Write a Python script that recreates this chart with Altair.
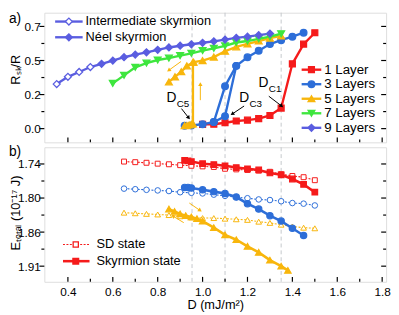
import math
import altair as alt
import pandas as pd

FONT = "Liberation Sans"
RED = "#f51b1b"
BLUE = "#2d6ed8"
YEL = "#f8b60c"
GRN = "#3ee63e"
PUR = "#5a5de0"

# ---------------- panel a) : R_sk / R ----------------
D_1L = [1.0, 1.05, 1.1, 1.15, 1.2, 1.25, 1.3, 1.35, 1.4, 1.45, 1.5]
R_1L = [0.029, 0.030, 0.040, 0.052, 0.058, 0.069, 0.090, 0.141, 0.444, 0.579, 0.657]

D_3L_UP = [0.92, 0.95, 1.0, 1.05, 1.1, 1.15, 1.2, 1.25, 1.3, 1.35, 1.4, 1.45]
R_3L_UP = [0.020, 0.022, 0.030, 0.045, 0.085, 0.430, 0.489, 0.534, 0.579, 0.606, 0.630, 0.657]
D_3L_DOWN = [1.05, 1.1, 1.15]
R_3L_DOWN = [0.045, 0.290, 0.430]

D_5L_SK = [1.35, 1.3, 1.25, 1.2, 1.15, 1.1, 1.05, 1.0, 0.96, 0.93, 0.905, 0.877, 0.85]
R_5L_SK = [0.635, 0.62, 0.60, 0.58, 0.56, 0.53, 0.49, 0.466, 0.455, 0.43, 0.39, 0.355, 0.32]
D_5L_LOW = [0.92, 0.93, 0.94, 0.95, 0.957, 0.957]
R_5L_LOW = [0.020, 0.022, 0.025, 0.030, 0.032, 0.455]

D_7L = [0.6, 0.65, 0.7, 0.75, 0.8, 0.85, 0.9, 0.95, 1.0, 1.05, 1.1, 1.15, 1.2, 1.25, 1.3, 1.35]
R_7L = [0.31, 0.365, 0.42, 0.449, 0.47, 0.483, 0.5, 0.516, 0.535, 0.55, 0.567, 0.59, 0.60, 0.615, 0.63, 0.65]

D_9L = [0.35, 0.4, 0.45, 0.5, 0.55, 0.6, 0.65, 0.7, 0.75, 0.8, 0.85, 0.9, 0.95, 1.0, 1.05, 1.1, 1.15, 1.2, 1.25, 1.3]
R_9L = [0.305, 0.355, 0.388, 0.422, 0.444, 0.466, 0.489, 0.507, 0.523, 0.54, 0.556, 0.568, 0.578, 0.588,
        0.598, 0.61, 0.622, 0.63, 0.64, 0.651]
D_INTERMEDIATE_MAX = 0.5  # 9-layer points up to here are intermediate (open) skyrmions

# ---------------- panel b) : E_total ----------------
D_SD = [0.65, 0.7, 0.75, 0.8, 0.85, 0.9, 0.95, 1.0, 1.05, 1.1, 1.15, 1.2, 1.25, 1.3, 1.35, 1.4, 1.45, 1.5]
E_SD_1L = [1.736, 1.737, 1.738, 1.7395, 1.7405, 1.742, 1.743, 1.744, 1.745, 1.748, 1.749, 1.750, 1.751,
           1.753, 1.757, 1.760, 1.762, 1.767]
E_SD_3L = [1.781, 1.782, 1.783, 1.784, 1.785, 1.787, 1.788, 1.789, 1.791, 1.793, 1.795, 1.797, 1.799,
           1.800, 1.802, 1.805, 1.806, 1.809]
E_SD_5L = [1.821, 1.822, 1.823, 1.824, 1.825, 1.827, 1.829, 1.830, 1.830, 1.831, 1.832, 1.833, 1.836,
           1.838, 1.841, 1.844, 1.846, 1.847]

D_SK_1L = [0.92, 0.935, 0.95, 1.0, 1.05, 1.1, 1.15, 1.2, 1.25, 1.3, 1.35, 1.4, 1.45, 1.5]
E_SK_1L = [1.734, 1.735, 1.736, 1.7395, 1.741, 1.743, 1.746, 1.748, 1.750, 1.755, 1.758, 1.765, 1.774, 1.787]
D_SK_3L = [0.92, 0.935, 0.95, 1.0, 1.05, 1.1, 1.15, 1.2, 1.25, 1.3, 1.35, 1.4, 1.45]
E_SK_3L = [1.779, 1.779, 1.780, 1.783, 1.786, 1.789, 1.795, 1.806, 1.815, 1.826, 1.835, 1.847, 1.859]
D_SK_5L = [0.85, 0.875, 0.9, 0.925, 0.95, 0.975, 1.0, 1.05, 1.1, 1.15, 1.2, 1.25, 1.3, 1.35, 1.38]
E_SK_5L = [1.815, 1.819, 1.823, 1.826, 1.828, 1.831, 1.835, 1.846, 1.858, 1.866, 1.877, 1.887, 1.900,
           1.910, 1.917]

# ---------------- guides / annotations ----------------
V_LINES = [0.953, 1.1, 1.35]
X_MAJOR = [0.4, 0.6, 0.8, 1.0, 1.2, 1.4, 1.6, 1.8]
X_MINOR = [0.5, 0.7, 0.9, 1.1, 1.3, 1.5, 1.7]
YA_MAJOR = [0.0, 0.23333, 0.46667, 0.7]
YA_LABELS = ["0.0", "0.2", "0.5", "0.7"]
YA_MINOR = [0.11667, 0.35, 0.58333]
YB_MAJOR = [1.74, 1.79667, 1.85333, 1.91]
YB_LABELS = ["1.74", "1.80", "1.86", "1.91"]
YB_MINOR = [1.76833, 1.825, 1.88167]

# (main letter, subscript, x and y of the letter centre)
ANNOT_A = [("D", "C1", 1.271, 0.31),
           ("D", "C3", 1.185, 0.209),
           ("D", "C5", 0.861, 0.212)]
ARROWS_A = [(1.295, 0.222, 1.352, 0.155, "black"),
            (1.185, 0.155, 1.132, 0.100, "black"),
            (0.906, 0.137, 0.938, 0.074, "black"),
            (0.99, 0.195, 0.99, 0.305, YEL),
            (0.904, 0.460, 0.849, 0.399, YEL)]
ARROWS_B = [(0.941, 1.805, 0.989, 1.8174, YEL),
            (0.916, 1.8376, 0.868, 1.8267, YEL)]

SERIES_NAMES = ["1 Layer", "3 Layers", "5 Layers", "7 Layers", "9 Layers"]
SERIES_COLORS = [RED, BLUE, YEL, GRN, PUR]
SERIES_SHAPES = ["square", "circle", "triangle-up", "triangle-down", "diamond"]
SKYRMION_TYPES = ["Intermediate skyrmion", "Néel skyrmion"]
STATE_NAMES = ["SD state", "Skyrmion state"]

# ---------------- layout ----------------
W = 348
HA = 132
HB = 137
XDOM = [0.295, 1.8175]
YADOM = [-0.094, 0.794]
YBDOM = [1.7122, 1.936]
KX = W / (XDOM[1] - XDOM[0])
KYA = HA / (YADOM[1] - YADOM[0])
KYB = HB / (YBDOM[1] - YBDOM[0])

SIZES = {"square": 36, "circle": 46, "triangle-up": 48, "triangle-down": 48, "diamond": 50}


def label_expr(vals, labels):
    parts = [f"abs(datum.value - {v}) < 0.001 ? '{l}'" for v, l in zip(vals, labels)]
    return " : ".join(parts) + " : ''"


XSCALE = alt.Scale(domain=XDOM, nice=False, zero=False)
XAXIS_B = alt.Axis(values=X_MAJOR, format=".1f", ticks=False, tickSize=0, domain=False, grid=False,
                   labelPadding=5, labelFontSize=12, labelFont=FONT, labelColor="black", labelFlush=False,
                   title="D (mJ/m²)", titleFont=FONT, titleFontSize=13, titleFontWeight="normal",
                   titleColor="black", titlePadding=1)
YSCALE_A = alt.Scale(domain=YADOM, nice=False, zero=False)
YAXIS_A = alt.Axis(values=YA_MAJOR, labelExpr=label_expr(YA_MAJOR, YA_LABELS), ticks=False, tickSize=0,
                   domain=False, grid=False, labelPadding=4, labelFontSize=12, labelFont=FONT,
                   labelColor="black", labelOverlap=False, title=None)
YSCALE_B = alt.Scale(domain=YBDOM, nice=False, zero=False, reverse=True)
YAXIS_B = alt.Axis(values=YB_MAJOR, labelExpr=label_expr(YB_MAJOR, YB_LABELS), ticks=False, tickSize=0,
                   domain=False, grid=False, labelPadding=4, labelFontSize=12, labelFont=FONT,
                   labelColor="black", labelOverlap=False, title=None)


def panel_encoders(panel):
    if panel == "a":
        xa, ys, ya, ky, sgn = None, YSCALE_A, YAXIS_A, KYA, -1
    else:
        xa, ys, ya, ky, sgn = XAXIS_B, YSCALE_B, YAXIS_B, KYB, 1

    def X(f):
        return alt.X(f"{f}:Q", scale=XSCALE, axis=xa)

    def Y(f):
        return alt.Y(f"{f}:Q", scale=ys, axis=ya)
    return X, Y, ky, sgn


def series_rows(D, V, name, path, color, shape, fills):
    return [{"D": d, "v": v, "series": name, "path": path, "ord": i, "color": color,
             "shape": shape, "fill": f, "size": SIZES[shape]} for i, (d, v, f) in enumerate(zip(D, V, fills))]


def common_layers(panel, H):
    X, Y, ky, sgn = panel_encoders(panel)
    layers = []
    vdf = pd.DataFrame({"D": V_LINES})
    layers.append(alt.Chart(vdf).mark_rule(color="#c4c8cc", strokeWidth=1, strokeDash=[4, 3]).encode(x=X("D")))
    maj = YA_MAJOR if panel == "a" else YB_MAJOR
    mnr = YA_MINOR if panel == "a" else YB_MINOR
    k = dict(color="black", strokeWidth=1.2)
    layers.append(alt.Chart(pd.DataFrame({"t": X_MAJOR})).mark_rule(**k).encode(
        x=X("t"), y=alt.value(H), y2=alt.value(H - 5)))
    layers.append(alt.Chart(pd.DataFrame({"t": X_MINOR})).mark_rule(**k).encode(
        x=X("t"), y=alt.value(H), y2=alt.value(H - 3)))
    layers.append(alt.Chart(pd.DataFrame({"t": maj})).mark_rule(**k).encode(
        y=Y("t"), x=alt.value(-5), x2=alt.value(0)))
    layers.append(alt.Chart(pd.DataFrame({"t": mnr})).mark_rule(**k).encode(
        y=Y("t"), x=alt.value(-3), x2=alt.value(0)))
    layers.append(alt.Chart(pd.DataFrame({"t": maj})).mark_rule(**k).encode(
        y=Y("t"), x=alt.value(W), x2=alt.value(W - 5)))
    layers.append(alt.Chart(pd.DataFrame({"t": mnr})).mark_rule(**k).encode(
        y=Y("t"), x=alt.value(W), x2=alt.value(W - 3)))
    return layers


def arrow_layers(panel, arrows):
    X, Y, ky, sgn = panel_encoders(panel)
    rows = []
    for (x0, y0, x1, y1, c) in arrows:
        dx = (x1 - x0) * KX
        dy = sgn * (y1 - y0) * ky
        ang = math.degrees(math.atan2(dx, -dy)) % 360
        rows.append({"x0": x0, "y0": y0, "x1": x1, "y1": y1, "c": c, "ang": ang})
    df = pd.DataFrame(rows)
    rule = alt.Chart(df).mark_rule(strokeWidth=1).encode(
        x=X("x0"), x2=alt.X2("x1"), y=Y("y0"), y2=alt.Y2("y1"), color=alt.Color("c:N", scale=None))
    head = alt.Chart(df).mark_point(shape="triangle-up", filled=True, size=20, opacity=1).encode(
        x=X("x1"), y=Y("y1"), fill=alt.Fill("c:N", scale=None), angle=alt.Angle("ang:Q", scale=None))
    return [rule, head]


def legend_row(label, color, shape, filled, dashed, y, x0, x1, xm, xt, fs, lw, size):
    base = alt.Chart(pd.DataFrame({"label": [label]}))
    rk = dict(color=color, strokeWidth=lw)
    if dashed:
        rk["strokeDash"] = [2, 1.5]
    line = base.mark_rule(**rk).encode(x=alt.value(x0), x2=alt.value(x1), y=alt.value(y))
    pt = base.mark_point(shape=shape, filled=True, fill=(color if filled else "white"), stroke=color,
                         strokeWidth=1.3, size=size, opacity=1).encode(x=alt.value(xm), y=alt.value(y))
    tx = base.mark_text(align="left", baseline="middle", fontSize=fs, font=FONT, color="black").encode(
        x=alt.value(xt), y=alt.value(y), text="label:N")
    return [line, pt, tx]


def line_layer(panel, df_lines, line_kw):
    X, Y, ky, sgn = panel_encoders(panel)
    return alt.Chart(df_lines).mark_line(**line_kw).encode(
        x=X("D"), y=Y("v"), color=alt.Color("color:N", scale=None), detail="path:N", order="ord:Q")


def point_layer(panel, df_pts, sw):
    X, Y, ky, sgn = panel_encoders(panel)
    return alt.Chart(df_pts).mark_point(filled=True, opacity=1, strokeWidth=sw).encode(
        x=X("D"), y=Y("v"), shape=alt.Shape("shape:N", scale=None), fill=alt.Fill("fill:N", scale=None),
        stroke=alt.Stroke("color:N", scale=None), size=alt.Size("size:Q", scale=None))


# ================= panel a =================
rows_a = []
rows_a += series_rows(D_1L, R_1L, SERIES_NAMES[0], "1", RED, "square", [RED] * len(D_1L))
rows_a += series_rows(D_3L_UP, R_3L_UP, SERIES_NAMES[1], "3u", BLUE, "circle", [BLUE] * len(D_3L_UP))
rows_a += series_rows(D_3L_DOWN, R_3L_DOWN, SERIES_NAMES[1], "3d", BLUE, "circle", [BLUE] * len(D_3L_DOWN))
rows_a += series_rows(D_5L_SK, R_5L_SK, SERIES_NAMES[2], "5s", YEL, "triangle-up", [YEL] * len(D_5L_SK))
rows_a += series_rows(D_5L_LOW, R_5L_LOW, SERIES_NAMES[2], "5l", YEL, "triangle-up", [YEL] * len(D_5L_LOW))
rows_a += series_rows(D_7L, R_7L, SERIES_NAMES[3], "7", GRN, "triangle-down", [GRN] * len(D_7L))
rows_a += series_rows(D_9L, R_9L, SERIES_NAMES[4], "9", PUR, "diamond",
                      ["white" if d <= D_INTERMEDIATE_MAX else PUR for d in D_9L])
df_a = pd.DataFrame(rows_a)
Xa, Ya, _, _ = panel_encoders("a")

layers_a = common_layers("a", HA)
layers_a.append(line_layer("a", df_a, dict(strokeWidth=2.4)))
layers_a.append(point_layer("a", df_a, 1.3))
layers_a += arrow_layers("a", ARROWS_A)
big_rows, sub_rows = [], []
for big, sub, xb, yb in ANNOT_A:
    big_rows.append({"x": xb, "y": yb, "t": big})
    sub_rows.append({"x": xb + 5.5 / KX, "y": yb - 6 / KYA, "t": sub})
layers_a.append(alt.Chart(pd.DataFrame(big_rows)).mark_text(
    font=FONT, fontSize=14, color="black", align="center", baseline="middle").encode(
    x=Xa("x"), y=Ya("y"), text="t:N"))
layers_a.append(alt.Chart(pd.DataFrame(sub_rows)).mark_text(
    font=FONT, fontSize=10, color="black", align="left", baseline="middle").encode(
    x=Xa("x"), y=Ya("y"), text="t:N"))
for i, (nm, c, s) in enumerate(zip(SERIES_NAMES, SERIES_COLORS, SERIES_SHAPES)):
    layers_a += legend_row(nm, c, s, True, False, 58 + i * 14.8, 262, 282, 272, 285, 13.5, 2.4, SIZES[s])
for i, nm in enumerate(SKYRMION_TYPES):
    layers_a += legend_row(nm, PUR, "diamond", i == 1, False, 9 + i * 16, 11, 39, 25, 42, 13, 2.4, 50)
lab_a = alt.Chart(pd.DataFrame({"t": ["a)"], "ti": ["Rₛₖ/R"]}))
layers_a.append(lab_a.mark_text(font=FONT, fontSize=14, align="left", baseline="top", color="black").encode(
    x=alt.value(-36), y=alt.value(-1), text="t:N"))
layers_a.append(lab_a.mark_text(font=FONT, fontSize=13, angle=270, align="center", baseline="middle",
                                color="black").encode(x=alt.value(-29), y=alt.value(58), text="ti:N"))
panel_a = alt.layer(*layers_a).properties(width=W, height=HA)

# ================= panel b =================
rows_sd = []
rows_sd += series_rows(D_SD, E_SD_1L, "SD1", "s1", RED, "square", ["white"] * len(D_SD))
rows_sd += series_rows(D_SD, E_SD_3L, "SD3", "s3", BLUE, "circle", ["white"] * len(D_SD))
rows_sd += series_rows(D_SD, E_SD_5L, "SD5", "s5", YEL, "triangle-up", ["white"] * len(D_SD))
df_sd = pd.DataFrame(rows_sd)
df_sd["size"] = df_sd["size"] * 0.7
rows_sk = []
rows_sk += series_rows(D_SK_1L, E_SK_1L, "SK1", "k1", RED, "square", [RED] * len(D_SK_1L))
rows_sk += series_rows(D_SK_3L, E_SK_3L, "SK3", "k3", BLUE, "circle", [BLUE] * len(D_SK_3L))
rows_sk += series_rows(D_SK_5L, E_SK_5L, "SK5", "k5", YEL, "triangle-up", [YEL] * len(D_SK_5L))
df_sk = pd.DataFrame(rows_sk)
df_sk["size"] = df_sk["size"] * 0.9

layers_b = common_layers("b", HB)
layers_b.append(line_layer("b", df_sd, dict(strokeWidth=1.1, strokeDash=[2, 1.5])))
layers_b.append(point_layer("b", df_sd, 1.0))
layers_b.append(line_layer("b", df_sk, dict(strokeWidth=2.6)))
layers_b.append(point_layer("b", df_sk, 1.2))
layers_b += arrow_layers("b", ARROWS_B)
layers_b += legend_row(STATE_NAMES[0], RED, "square", False, True, 99, 19, 46, 32, 53, 13, 1.1, 28)
layers_b += legend_row(STATE_NAMES[1], RED, "square", True, False, 116, 19, 46, 32, 53, 13, 2.6, 34)
lab_b = alt.Chart(pd.DataFrame({"t": ["b)"], "ti": ["Eₜₒₜₐₗ (10⁻¹⁷ J)"]}))
layers_b.append(lab_b.mark_text(font=FONT, fontSize=14, align="left", baseline="top", color="black").encode(
    x=alt.value(-36), y=alt.value(-2), text="t:N"))
layers_b.append(lab_b.mark_text(font=FONT, fontSize=13, angle=270, align="center", baseline="middle",
                                color="black").encode(x=alt.value(-29), y=alt.value(67), text="ti:N"))
panel_b = alt.layer(*layers_b).properties(width=W, height=HB)

chart = alt.vconcat(panel_a, panel_b, spacing=0).resolve_scale(x="independent", y="independent").properties(
    padding={"left": 0, "top": 0, "right": 0, "bottom": 0}
).configure_view(stroke="black", strokeWidth=1.5).configure(font=FONT)

chart.save("out.html", embed_options={"renderer": "svg", "actions": False})
